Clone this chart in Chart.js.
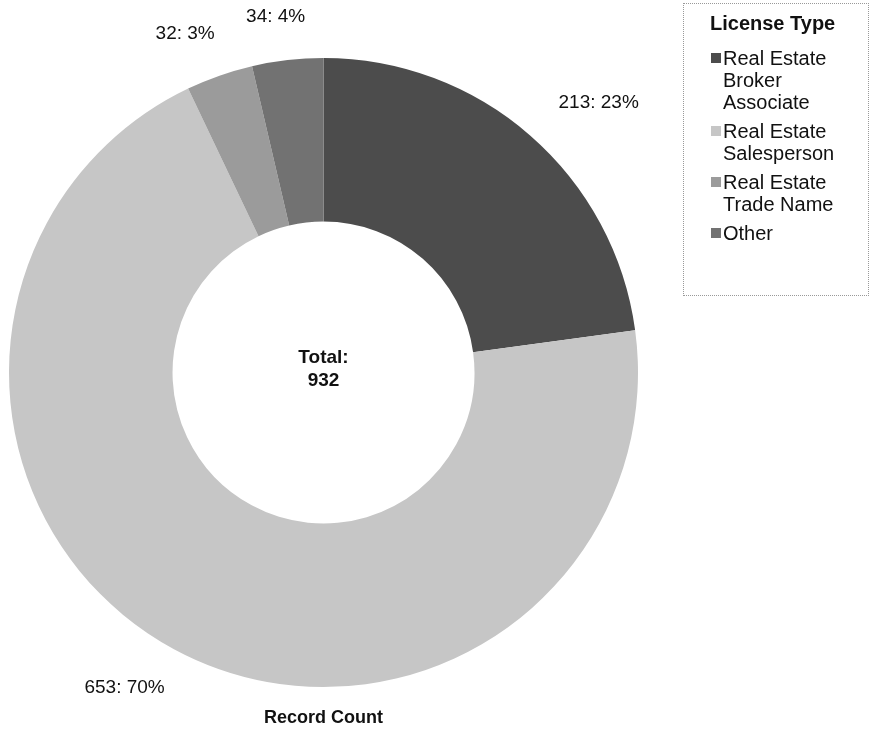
<!DOCTYPE html>
<html lang="en">
<head>
    <meta charset="UTF-8">
    <title>Record Count by License Type</title>
    <script src="https://cdn.jsdelivr.net/npm/chart.js"></script>
    <style>
        body {
            margin: 0;
            background: #fff;
            font-family: "Liberation Sans", Arial, sans-serif;
        }
        .wrap {
            position: relative;
            width: 871px;
            height: 735px;
        }
        .legend {
            position: absolute;
            left: 683px;
            top: 3px;
            width: 186px;
            height: 293px;
            border: 1px dotted #999;
            box-sizing: border-box;
            color: #111;
        }
        .legend h3 {
            margin: 8px 0 12px 26px;
            font-size: 20px;
            font-weight: bold;
        }
        .legend .item {
            position: relative;
            margin: 0 0 7px 39px;
            font-size: 20px;
            line-height: 22px;
        }
        .legend .box {
            position: absolute;
            left: -12px;
            top: 6px;
            width: 10px;
            height: 10px;
        }
    </style>
</head>
<body>
<div class="wrap">
    <canvas id="chart" width="871" height="735"></canvas>
    <div class="legend" id="legend"><h3>License Type</h3></div>
</div>
<script>
    const categories = ["Real Estate Broker Associate", "Real Estate Salesperson", "Real Estate Trade Name", "Other"];
    const legendLines = [["Real Estate", "Broker", "Associate"], ["Real Estate", "Salesperson"], ["Real Estate", "Trade Name"], ["Other"]];
    const counts = [213, 653, 32, 34];
    const colors = ["#4c4c4c", "#c6c6c6", "#9b9b9b", "#727272"];

    const total = counts.reduce((a, b) => a + b, 0);

    // legend
    const legend = document.getElementById("legend");
    categories.forEach((c, i) => {
        const div = document.createElement("div");
        div.className = "item";
        div.innerHTML = '<span class="box" style="background:' + colors[i] + '"></span>' + legendLines[i].join("<br>");
        legend.appendChild(div);
    });

    const textPlugin = {
        id: "texts",
        afterDraw(chart) {
            const ctx = chart.ctx;
            const meta = chart.getDatasetMeta(0);
            ctx.save();
            ctx.fillStyle = "#111";
            ctx.textAlign = "center";
            ctx.textBaseline = "middle";
            ctx.font = "19px 'Liberation Sans', Arial, sans-serif";
            meta.data.forEach((arc, i) => {
                const p = arc.getProps(["x", "y", "startAngle", "endAngle", "outerRadius"], true);
                const mid = (p.startAngle + p.endAngle) / 2;
                const x = p.x + Math.cos(mid) * p.outerRadius * 1.33;
                const y = p.y + Math.sin(mid) * p.outerRadius * 1.14;
                const pct = Math.round(counts[i] / total * 100);
                ctx.fillText(counts[i] + ": " + pct + "%", x, y);
            });
            const c = meta.data[0];
            ctx.font = "bold 19px 'Liberation Sans', Arial, sans-serif";
            ctx.fillText("Total:", c.x, c.y - 15);
            ctx.fillText(String(total), c.x, c.y + 8);
            ctx.font = "bold 18px 'Liberation Sans', Arial, sans-serif";
            ctx.fillText("Record Count", c.x, chart.height - 17);
            ctx.restore();
        }
    };

    new Chart(document.getElementById("chart"), {
        type: "doughnut",
        data: {
            labels: categories,
            datasets: [{
                data: counts,
                backgroundColor: colors,
                borderWidth: 0
            }]
        },
        options: {
            responsive: false,
            animation: false,
            cutout: "48%",
            layout: {
                padding: { left: 9, right: 233, top: 56, bottom: 46 }
            },
            plugins: {
                legend: { display: false },
                tooltip: { enabled: false }
            }
        },
        plugins: [textPlugin]
    });
</script>
</body>
</html>
